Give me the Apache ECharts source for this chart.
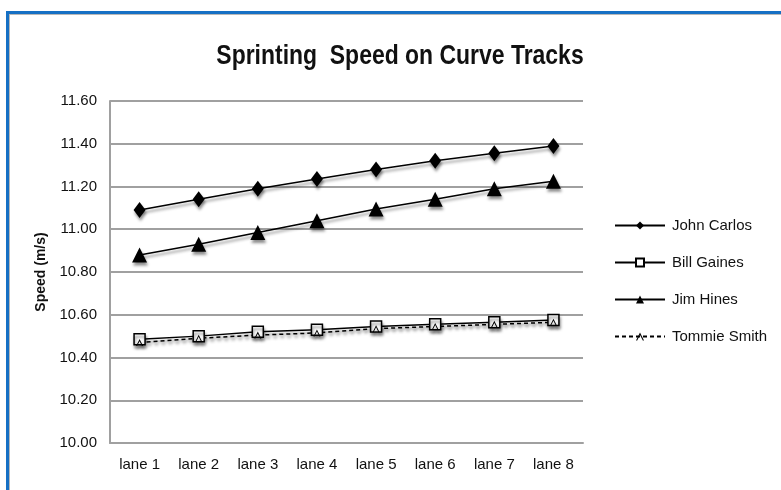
<!DOCTYPE html>
<html><head><meta charset="utf-8">
<script src="https://cdn.jsdelivr.net/npm/echarts@6/dist/echarts.min.js"></script>
<style>
html,body{margin:0;padding:0;background:#fff;}
#frame{position:absolute;left:6px;top:11px;width:781px;height:490px;border-top:3px solid #1670c4;border-left:3px solid #1670c4;box-shadow:inset 1px 1px 0 #b8b8b8;}
#c{position:absolute;left:0;top:0;width:781px;height:490px;}
</style></head>
<body>
<div id="frame"></div>
<div id="c"></div>
<script>
const categories = ['lane 1','lane 2','lane 3','lane 4','lane 5','lane 6','lane 7','lane 8'];
const johnCarlos  = [11.09, 11.14, 11.19, 11.235, 11.28, 11.32, 11.355, 11.39];
const billGaines  = [10.485, 10.50, 10.52, 10.53, 10.545, 10.555, 10.565, 10.575];
const jimHines    = [10.88, 10.93, 10.985, 11.04, 11.095, 11.14, 11.19, 11.225];
const tommieSmith = [10.47, 10.49, 10.505, 10.515, 10.535, 10.545, 10.555, 10.565];
const yTicks = {min: 10.0, max: 11.6, interval: 0.2};
const titleText = 'Sprinting  Speed on Curve Tracks';

const FONT = '"Liberation Sans",Arial,sans-serif';
const shadow = {shadowBlur: 3, shadowOffsetY: 3, shadowOffsetX: 1, shadowColor: 'rgba(0,0,0,0.45)'};
const chart = echarts.init(document.getElementById('c'), null, {renderer: 'canvas'});
function mk(name, data, symbol, size, fill, dashed) {
  return {
    name: name, type: 'line', data: data,
    symbol: symbol, symbolSize: size,
    lineStyle: Object.assign({color: '#000', width: 1.5, type: dashed ? [4, 3] : 'solid'}, shadow),
    itemStyle: Object.assign({color: fill, borderColor: '#000', borderWidth: fill === '#fff' ? 1.5 : 0}, shadow),
    emphasis: {disabled: true},
    animation: false
  };
}
chart.setOption({
  backgroundColor: 'transparent',
  graphic: [{
    type: 'text', x: 400, y: 57, scaleX: 0.85,
    style: {text: titleText, align: 'center', verticalAlign: 'middle',
      font: 'bold 27px "Liberation Sans", Arial, sans-serif', fill: '#111'}
  }],
  legend: {
    orient: 'vertical', left: 609, top: 213, itemGap: 22, itemWidth: 50, itemHeight: 10,
    textStyle: {fontFamily: FONT, fontSize: 15, color: '#111', padding: [0, 0, 0, 2]},
    data: ['John Carlos', 'Bill Gaines', 'Jim Hines', 'Tommie Smith']
  },
  grid: {left: 110, right: 198, top: 101, bottom: 47},
  xAxis: {
    type: 'category', data: categories, boundaryGap: true,
    axisLine: {lineStyle: {color: '#a0a0a0', width: 2}},
    axisTick: {show: false},
    axisLabel: {fontFamily: FONT, fontSize: 15, color: '#111', margin: 14}
  },
  yAxis: {
    type: 'value', min: yTicks.min, max: yTicks.max, interval: yTicks.interval,
    name: 'Speed (m/s)', nameLocation: 'middle', nameGap: 52, nameRotate: 90,
    nameTextStyle: {fontFamily: FONT, fontSize: 14, fontWeight: 'bold', color: '#111'},
    axisLine: {show: true, lineStyle: {color: '#a0a0a0', width: 2}},
    axisTick: {show: false},
    splitLine: {lineStyle: {color: '#a0a0a0', width: 2}},
    axisLabel: {fontFamily: FONT, fontSize: 15, color: '#111', margin: 13, formatter: v => v.toFixed(2)}
  },
  series: [
    mk('John Carlos', johnCarlos, 'diamond', [12, 16], '#000', false),
    mk('Jim Hines', jimHines, 'triangle', 15, '#000', false),
    mk('Bill Gaines', billGaines, 'rect', 11, '#fff', false),
    mk('Tommie Smith', tommieSmith, 'path://M0,10 L5,0 L10,10 L8.5,10 L5,3 L1.5,10Z', 7, '#000', true)
  ]
});
</script>
</body></html>
